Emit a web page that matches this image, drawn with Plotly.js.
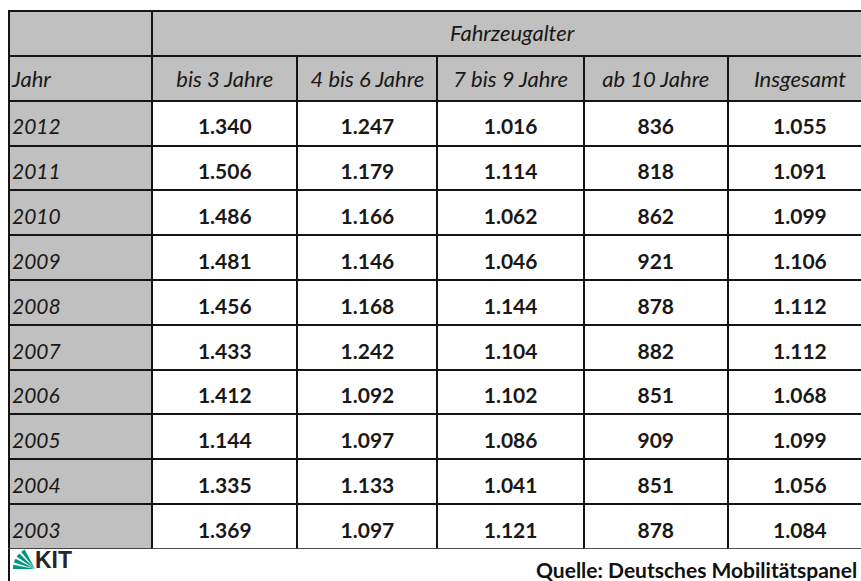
<!DOCTYPE html>
<html>
<head>
<meta charset="utf-8">
<script src="https://cdn.plot.ly/plotly-3.0.1.min.js"></script>
<style>
html,body{margin:0;padding:0;overflow:hidden;background:#fff;width:861px;height:581px;}
#chart{width:872px;height:581px;}
</style>
</head>
<body>
<div id="chart"></div>
<script>
// ---- data ----
const groupTitle = 'Fahrzeugalter';
const columnHeaders = ['Jahr', 'bis 3 Jahre', '4 bis 6 Jahre', '7 bis 9 Jahre', 'ab 10 Jahre', 'Insgesamt'];
const years = ['2012', '2011', '2010', '2009', '2008', '2007', '2006', '2005', '2004', '2003'];
const bis3 = [1340, 1506, 1486, 1481, 1456, 1433, 1412, 1144, 1335, 1369];
const bis6 = [1247, 1179, 1166, 1146, 1168, 1242, 1092, 1097, 1133, 1097];
const bis9 = [1016, 1114, 1062, 1046, 1144, 1104, 1102, 1086, 1041, 1121];
const ab10 = [836, 818, 862, 921, 878, 882, 851, 909, 851, 878];
const insgesamt = [1055, 1091, 1099, 1106, 1112, 1112, 1068, 1099, 1056, 1084];
const sourceText = 'Quelle: Deutsches Mobilitätspanel';

// German thousands separator
const fmt = n => n >= 1000 ? Math.floor(n / 1000) + '.' + String(n % 1000).padStart(3, '0') : String(n);

// ---- layout helpers ----
const W = 872, H = 581;
const px = x => x / W;
const py = y => (H - y) / H;
const GRAY = '#c0c0c0', LINE = '#141414', TXT = '#1a1816';
const FONT = 'Lato, "Open Sans", sans-serif';
const TOP = 11, BOTTOM = 549, LEFT = 9;
const rowH = (BOTTOM - TOP) / 12;
const colW = [143, 145, 140, 146, 144, 144];
const spanW = colW.slice(1).reduce((a, b) => a + b, 0);
const TEXT_DX = 5;   // first column text sits closer to the border than plotly's padding
const colWText = [colW[0] + TEXT_DX].concat(colW.slice(1));
const dyTop = 5, dyHead = 7, dyCells = 10;
const NONE = 'rgba(0,0,0,0)';
const blank = years.map(() => '');
const aligns = ['left', 'center', 'center', 'center', 'center', 'center'];

// grid (fills + borders)
const topGrid = {
  type: 'table',
  domain: {x: [px(LEFT), 1], y: [py(TOP + rowH), py(TOP)]},
  columnwidth: [colW[0], spanW],
  header: {values: ['', ''], height: rowH, fill: {color: GRAY}, line: {color: LINE, width: 2}},
  cells: {values: [[], []], height: rowH}
};
const mainGrid = {
  type: 'table',
  domain: {x: [px(LEFT), 1], y: [py(BOTTOM), py(TOP + rowH)]},
  columnwidth: colW,
  header: {values: columnHeaders.map(() => ''), height: rowH, fill: {color: GRAY}, line: {color: LINE, width: 2}},
  cells: {
    values: columnHeaders.map(() => blank), height: rowH,
    fill: {color: [GRAY, '#ffffff', '#ffffff', '#ffffff', '#ffffff', '#ffffff']},
    line: {color: LINE, width: 2}
  }
};

// text layers (vertically centred by offsetting)
const topText = {
  type: 'table',
  domain: {x: [px(LEFT - TEXT_DX), 1], y: [py(TOP + rowH + dyTop), py(TOP + dyTop)]},
  columnwidth: [colWText[0], spanW],
  header: {
    values: ['', groupTitle], height: rowH, align: ['left', 'center'],
    fill: {color: NONE}, line: {color: NONE, width: 0},
    font: {family: FONT, size: 22, color: TXT, style: 'italic'}
  },
  cells: {values: [[], []], height: rowH}
};
const headText = {
  type: 'table',
  domain: {x: [px(LEFT - TEXT_DX), 1], y: [py(TOP + 2 * rowH + dyHead), py(TOP + rowH + dyHead)]},
  columnwidth: colWText,
  header: {
    values: columnHeaders, height: rowH, align: aligns,
    fill: {color: NONE}, line: {color: NONE, width: 0},
    font: {family: FONT, size: 22, color: TXT, style: 'italic'}
  },
  cells: {values: columnHeaders.map(() => []), height: rowH}
};
const cellText = {
  type: 'table',
  domain: {x: [px(LEFT - TEXT_DX), 1], y: [py(BOTTOM + dyCells), py(TOP + rowH + dyCells)]},
  columnwidth: colWText,
  header: {
    values: columnHeaders.map(() => ''), height: rowH,
    fill: {color: NONE}, line: {color: NONE, width: 0}
  },
  cells: {
    values: [years, bis3.map(fmt), bis6.map(fmt), bis9.map(fmt), ab10.map(fmt), insgesamt.map(fmt)],
    height: rowH, align: aligns,
    fill: {color: NONE}, line: {color: NONE, width: 0},
    font: {
      family: FONT, size: 21, color: TXT,
      style: ['italic', 'normal', 'normal', 'normal', 'normal', 'normal'],
      weight: ['normal', 'bold', 'bold', 'bold', 'bold', 'bold']
    }
  }
};

// KIT logo fan (decoration)
function wedge(a0, a1) {
  const cx = 35, cy = 569, r = 22;
  const p = ['M', px(cx), py(cy)];
  for (let i = 0; i <= 4; i++) {
    const rad = (a0 + (a1 - a0) * i / 4) * Math.PI / 180;
    p.push('L', px(cx - r * Math.cos(rad)), py(cy - r * Math.sin(rad)));
  }
  p.push('Z');
  return p.join(' ');
}
const GREEN = '#009682';
const shapes = [
  {type: 'line', xref: 'paper', yref: 'paper', x0: px(LEFT), x1: px(LEFT), y0: py(BOTTOM), y1: py(H),
   line: {color: LINE, width: 2}},
  {type: 'path', xref: 'paper', yref: 'paper', path: wedge(0, 11), fillcolor: GREEN, line: {width: 0}},
  {type: 'path', xref: 'paper', yref: 'paper', path: wedge(17, 28), fillcolor: GREEN, line: {width: 0}},
  {type: 'path', xref: 'paper', yref: 'paper', path: wedge(34, 45), fillcolor: GREEN, line: {width: 0}},
  {type: 'path', xref: 'paper', yref: 'paper', path: wedge(51, 62), fillcolor: GREEN, line: {width: 0}}
];

const layout = {
  width: W, height: H,
  margin: {l: 0, r: 0, t: 0, b: 0, pad: 0},
  paper_bgcolor: '#ffffff',
  showlegend: false,
  shapes: shapes,
  annotations: [
    {xref: 'paper', yref: 'paper', x: px(33), y: py(560), xanchor: 'left', yanchor: 'middle',
     text: '<b>KIT</b>', showarrow: false,
     font: {family: '"Liberation Sans", Arial, sans-serif', size: 23, color: '#262626'}},
    {xref: 'paper', yref: 'paper', x: px(858), y: py(569), xanchor: 'right', yanchor: 'middle',
     borderpad: 0,
     text: '<b>' + sourceText + '</b>', showarrow: false,
     font: {family: FONT, size: 21, color: '#111111'}}
  ]
};

Plotly.newPlot('chart', [topGrid, mainGrid, topText, headText, cellText], layout, {displayModeBar: false, staticPlot: true});
</script>
</body>
</html>
